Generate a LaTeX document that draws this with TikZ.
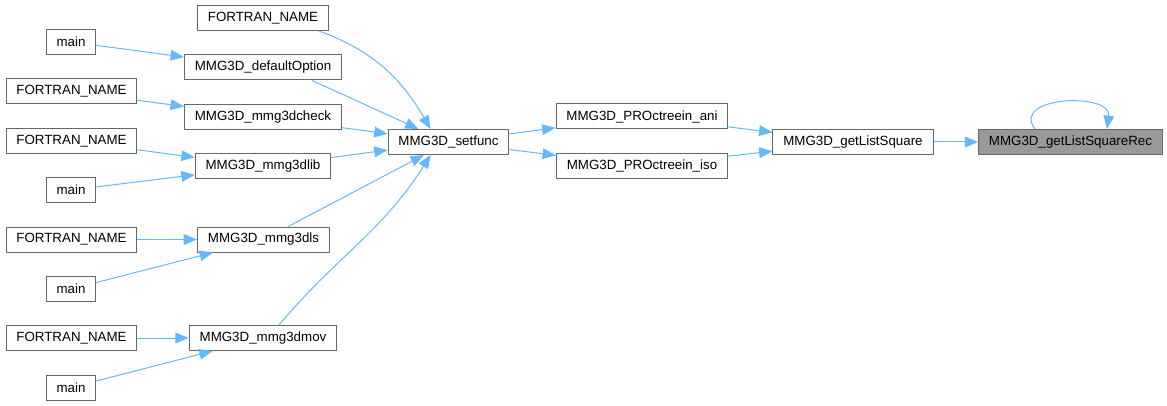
\documentclass[tikz,border=0pt]{standalone}
\usepackage{fontspec}
\setmainfont{Liberation Sans}
\usetikzlibrary{arrows.meta,calc}
\definecolor{linkblue}{HTML}{63B8FF}
\definecolor{boxgray}{HTML}{666666}
\definecolor{recgray}{HTML}{999999}

\begin{document}
\begin{tikzpicture}[x=0.75pt, y=0.75pt, box/.style={draw=boxgray, fill=white, line width=0.75pt, inner xsep=7.8pt, inner ysep=0pt, minimum height=18.75pt, font=\fontsize{10}{12}\selectfont}, edge/.style={draw=linkblue, line width=0.75pt, -{Triangle[length=10pt, width=8pt]}},]
    \useasboundingbox (0,0) rectangle (1167,-406);
    \node[box, fill=recgray] (rec) at (1070.5,-142) {MMG3D\_getListSquareRec};
    \node[box] (getls) at (853,-142) {MMG3D\_getListSquare};
    \node[box] (ani) at (642,-116.5) {MMG3D\_PROctreein\_ani};
    \node[box] (iso) at (642,-166) {MMG3D\_PROctreein\_iso};
    \node[box] (setfunc) at (448.5,-142) {MMG3D\_setfunc};
    \node[box] (fortran0) at (263,-18) {FORTRAN\_NAME};
    \node[box] (defopt) at (263,-67.5) {MMG3D\_defaultOption};
    \node[box] (check) at (263,-117) {MMG3D\_mmg3dcheck};
    \node[box] (lib) at (263,-166.5) {MMG3D\_mmg3dlib};
    \node[box] (dls) at (263.5,-239.5) {MMG3D\_mmg3dls};
    \node[box] (mov) at (263,-338) {MMG3D\_mmg3dmov};
    \node[box] (main1) at (71,-42) {main};
    \node[box] (fortran1) at (71.5,-91.5) {FORTRAN\_NAME};
    \node[box] (fortran2) at (71.5,-141) {FORTRAN\_NAME};
    \node[box] (main2) at (71,-190) {main};
    \node[box] (fortran3) at (71.5,-239.5) {FORTRAN\_NAME};
    \node[box] (main3) at (71,-289) {main};
    \node[box] (fortran4) at (71.5,-338) {FORTRAN\_NAME};
    \node[box] (main4) at (71,-387.5) {main};
    \draw[edge] (main1) -- (defopt);
    \draw[edge] (fortran1) -- (check);
    \draw[edge] (fortran2) -- (lib);
    \draw[edge] (main2) -- (lib);
    \draw[edge] (fortran3) -- (dls);
    \draw[edge] (main3) -- (dls);
    \draw[edge] (fortran4) -- (mov);
    \draw[edge] (main4) -- (mov);
    \draw[edge] ($(fortran0.south east)+(-10,0)$) to[out=-20, in=120] ($(setfunc.north)+(-18,0)$);
    \draw[edge] ($(defopt.south east)+(-30,0)$) -- ($(setfunc.north)+(-30,0)$);
    \draw[edge] (check) -- (setfunc);
    \draw[edge] (lib) -- (setfunc);
    \draw[edge] (dls) -- (setfunc);
    \draw[edge] ($(mov.north)+(16,0)$) to[out=50, in=-122] ($(setfunc.south)+(-18,0)$);
    \draw[edge] (setfunc) -- (ani);
    \draw[edge] (setfunc) -- (iso);
    \draw[edge] (ani) -- (getls);
    \draw[edge] (iso) -- (getls);
    \draw[edge] (getls) -- (rec);
    \draw[edge] ($(rec.north)+(-35.5,0)$) .. controls (1010,-96) and (1112,-92) .. ($(rec.north)+(36.5,0)$);
\end{tikzpicture}
\end{document}
